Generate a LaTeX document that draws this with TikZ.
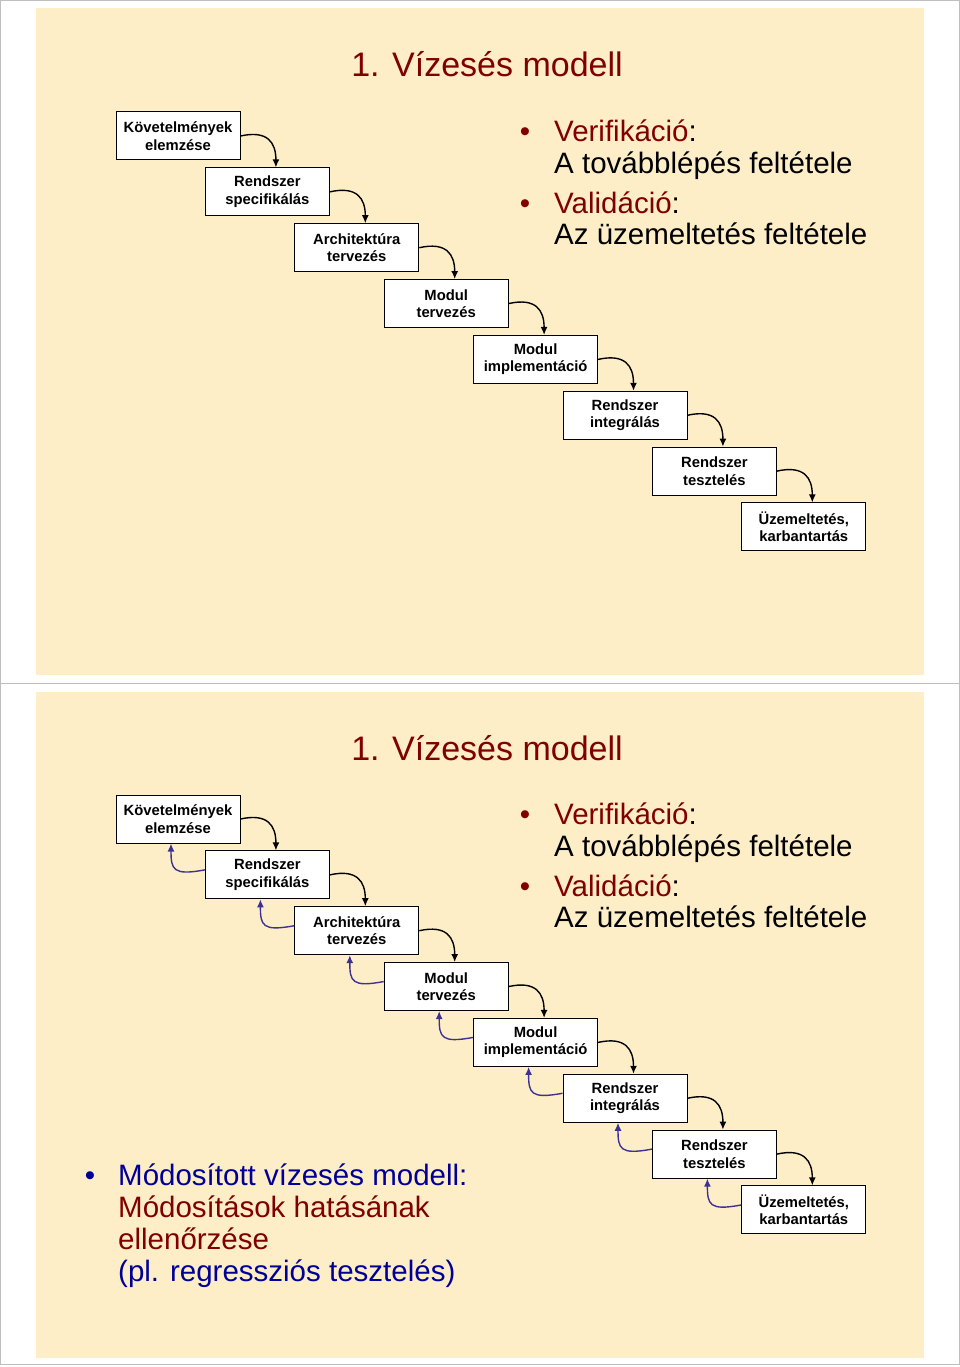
\documentclass[tikz,border=0pt]{standalone}
\usepackage{fontspec}
\setmainfont{Liberation Sans}
\usetikzlibrary{arrows.meta}
\definecolor{panel}{RGB}{253,238,200}
\definecolor{dred}{RGB}{128,0,0}
\definecolor{dblue}{RGB}{0,0,153}
\definecolor{fblue}{RGB}{60,50,150}
\definecolor{framec}{RGB}{190,190,190}
\begin{document}
\begin{tikzpicture}[x=1pt,y=-1pt,
  stage/.style={draw=black, line width=1pt, fill=white, minimum width=124pt, minimum height=48pt, inner sep=0pt, align=center, font=\fontsize{14.8}{17.5}\selectfont\bfseries},
  flow/.style={draw=black, line width=1.4pt, -{Latex[length=8pt,width=7pt]}},
  back/.style={draw=fblue, line width=1.4pt, -{Latex[length=8pt,width=7pt]}},
  big/.style={font=\fontsize{29.5}{31}\selectfont, anchor=base west, inner sep=0pt},
  bul/.style={font=\fontsize{29.5}{31}\selectfont, anchor=base, inner sep=0pt},
  ttl/.style={font=\fontsize{34}{36}\selectfont, text=dred, anchor=base, inner sep=0pt}]

\path[use as bounding box] (0,0) rectangle (960,1367);
\fill[white] (0,0) rectangle (960,1367);
\draw[framec, line width=1pt] (0.5,0.5) rectangle (959.5,1364);
\draw[framec, line width=1pt] (0,683.5) -- (960,683.5);
\fill[panel] (36,8) rectangle (924,675);
\fill[panel] (36,692) rectangle (924,1358);

\node[ttl] (ttl1) at (487,77) {1. Vízesés modell};
\node[ttl] (ttl2) at (487,760) {1. Vízesés modell};

\foreach \i/\txt in {0/{Követelmények\\elemzése},1/{Rendszer\\specifikálás},2/{Architektúra\\tervezés},3/{Modul\\tervezés},4/{Modul\\implementáció},5/{Rendszer\\integrálás},6/{Rendszer\\tesztelés},7/{Üzemeltetés,\\karbantartás}}{
  \node[stage] (t\i) at ({178+89.4*\i},{136+55.85*\i}) {\txt};
  \node[stage] (b\i) at ({178+89.4*\i},{819+55.85*\i}) {\txt};
}

\foreach \i in {0,...,6}{
  \pgfmathtruncatemacro\j{\i+1}
  \draw[flow] (t\i.east) .. controls +(27,-6) and +(0,-25) .. ([xshift=8.5pt]t\j.north);
  \draw[flow] (b\i.east) .. controls +(27,-6) and +(0,-25) .. ([xshift=8.5pt]b\j.north);
  \draw[back] ([yshift=5pt]b\j.west) .. controls +(-32,6) and +(0,26) .. ([xshift=-7pt]b\i.south);
}

% top panel bullets
\node[bul, text=dred] (tb1) at (525,141.5) {•};
\node[big] (tv1) at (554,141.5) {\textcolor{dred}{Verifikáció}:};
\node[big] (tv2) at (554,173.5) {A továbblépés feltétele};
\node[bul, text=dred] (tb2) at (525,213.5) {•};
\node[big] (tv3) at (554,213.5) {\textcolor{dred}{Validáció}:};
\node[big] (tv4) at (554,244.5) {Az üzemeltetés feltétele};

% bottom panel bullets
\node[bul, text=dred] (bb1) at (525,824.5) {•};
\node[big] (bv1) at (554,824.5) {\textcolor{dred}{Verifikáció}:};
\node[big] (bv2) at (554,856.5) {A továbblépés feltétele};
\node[bul, text=dred] (bb2) at (525,896.5) {•};
\node[big] (bv3) at (554,896.5) {\textcolor{dred}{Validáció}:};
\node[big] (bv4) at (554,927.5) {Az üzemeltetés feltétele};

\node[bul, text=dblue] (mb) at (90,1185.5) {•};
\node[big, text=dblue] (m1) at (118,1185.5) {Módosított vízesés modell:};
\node[big, text=dred] (m2) at (118,1217.5) {Módosítások hatásának};
\node[big, text=dred] (m3) at (118,1249.5) {ellenőrzése};
\node[big, text=dblue] (m4) at (118,1281.5) {(pl. regressziós tesztelés)};
\end{tikzpicture}
\end{document}
